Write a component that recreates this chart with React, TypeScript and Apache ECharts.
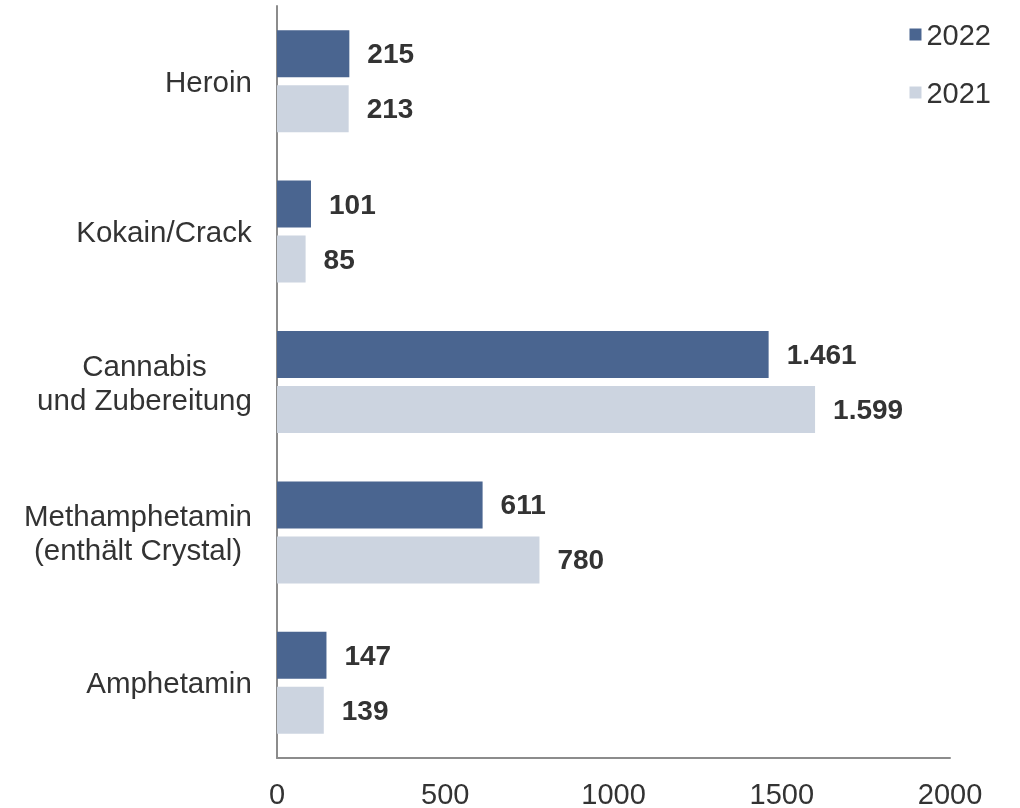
import React, { useEffect, useRef } from "react";
import * as echarts from "echarts";

const categories = [
  "Heroin",
  "Kokain/Crack",
  "Cannabis\nund Zubereitung",
  "Methamphetamin\n(enthält Crystal)",
  "Amphetamin",
];
const values2022 = [215, 101, 1461, 611, 147];
const values2021 = [213, 85, 1599, 780, 139];
const seriesNames = ["2022", "2021"];
const xTicks = [0, 500, 1000, 1500, 2000];

const FONT = "Liberation Sans, Arial, sans-serif";
const CAT_SIZE = 29.5;

const fmt = (v: number) => {
  const s = String(Math.round(v));
  return s.replace(/\B(?=(\d{3})+(?!\d))/g, ".");
};

function measure(text: string): number {
  const c = document.createElement("canvas").getContext("2d");
  if (!c) return text.length * CAT_SIZE * 0.5;
  c.font = `${CAT_SIZE}px ${FONT}`;
  return c.measureText(text).width;
}

export default function App() {
  const ref = useRef<HTMLDivElement>(null);
  useEffect(() => {
    if (!ref.current) return;
    const chart = echarts.init(ref.current, undefined, { renderer: "svg" });
    const rich: Record<string, any> = {};
    categories.forEach((cat, i) => {
      const w = Math.max(...cat.split("\n").map(measure));
      rich["c" + i] = {
        width: Math.ceil(w) + 2,
        align: "center",
        fontSize: CAT_SIZE,
        fontFamily: FONT,
        color: "#333333",
        lineHeight: 34,
      };
    });
    const labelStyle = {
      show: true,
      position: "right" as const,
      distance: 18,
      fontFamily: FONT,
      fontWeight: "bold" as const,
      fontSize: 28,
      color: "#333333",
      formatter: (p: any) => fmt(p.value),
    };
    chart.setOption({
      animation: false,
      textStyle: { fontFamily: FONT },
      legend: {
        orient: "vertical",
        right: 24,
        top: 15,
        itemWidth: 12,
        itemHeight: 12,
        itemGap: 29,
        icon: "rect",
        data: seriesNames,
        textStyle: { fontSize: 29, color: "#333333", fontFamily: FONT },
      },
      grid: { left: 277, right: 70, top: 6, bottom: 50, containLabel: false },
      xAxis: {
        type: "value",
        min: xTicks[0],
        max: xTicks[xTicks.length - 1],
        interval: 500,
        axisLine: { show: true, lineStyle: { color: "#8c8c8c", width: 2 } },
        axisTick: { show: false },
        splitLine: { show: false },
        axisLabel: {
          fontFamily: FONT,
          fontSize: 29,
          color: "#333333",
          margin: 21,
          formatter: (v: number) => String(v),
        },
      },
      yAxis: {
        type: "category",
        inverse: true,
        data: categories,
        axisLine: { show: true, lineStyle: { color: "#8c8c8c", width: 2 } },
        axisTick: { show: false },
        axisLabel: {
          margin: 24,
          align: "right",
          formatter: (value: string, idx: number) =>
            value
              .split("\n")
              .map((line) => `{c${idx}|${line}}`)
              .join("\n"),
          rich,
        },
      },
      series: [
        {
          name: seriesNames[0],
          type: "bar",
          data: values2022,
          barWidth: 47,
          barGap: "17%",
          itemStyle: { color: "#4a6590" },
          label: labelStyle,
        },
        {
          name: seriesNames[1],
          type: "bar",
          data: values2021,
          barWidth: 47,
          barGap: "17%",
          itemStyle: { color: "#ccd4e0" },
          label: labelStyle,
        },
      ],
    });
    return () => chart.dispose();
  }, []);
  return (
    <div
      ref={ref}
      style={{ position: "fixed", left: 0, top: 0, width: 1020, height: 808 }}
    />
  );
}
